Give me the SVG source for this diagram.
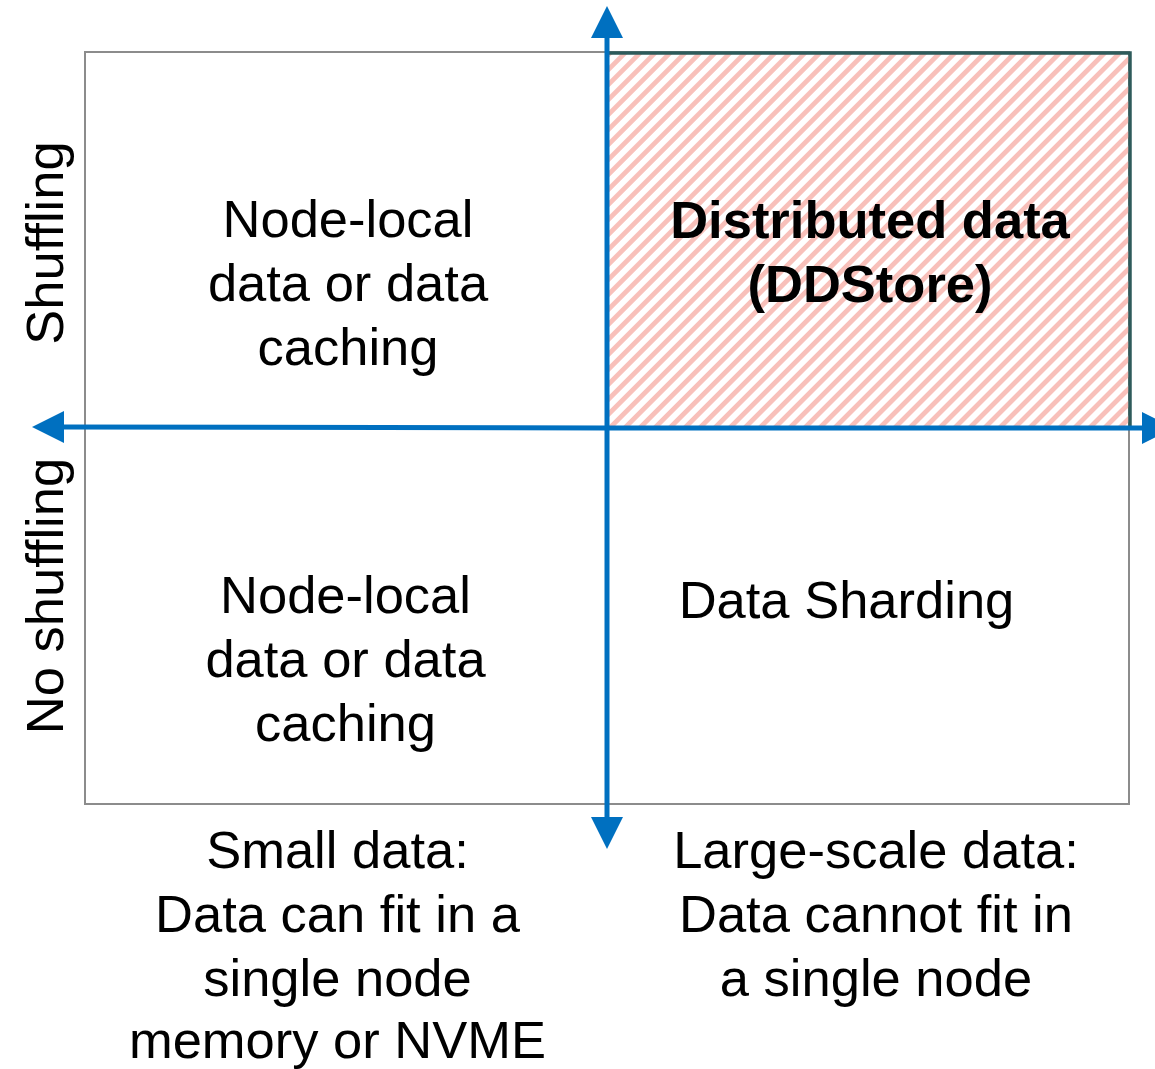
<svg xmlns="http://www.w3.org/2000/svg" width="1155" height="1069" viewBox="0 0 1155 1069">
<defs>
<pattern id="hatch" patternUnits="userSpaceOnUse" width="10.6" height="10.6" patternTransform="rotate(45)">
<rect x="0" y="0" width="4.8" height="10.6" fill="#F8C0BA"/>
</pattern>
<marker id="ah" markerUnits="userSpaceOnUse" markerWidth="32" markerHeight="32" viewBox="0 0 30 30" refX="0" refY="15" orient="auto">
<path d="M0,0 L30,15 L0,30 Z" fill="#0070C0"/>
</marker>
<style>
.t{font-family:"Liberation Sans",Arial,sans-serif;font-size:52.5px;fill:#000;text-anchor:middle}
.b{font-weight:bold}
</style>
</defs>
<rect width="1155" height="1069" fill="#fff"/>
<g id="frame">
<rect x="85" y="52" width="1044" height="752" fill="none" stroke="#8C8C8C" stroke-width="2"/>
</g>
<g id="ddstore">
<rect x="607" y="53" width="523" height="375" fill="url(#hatch)" stroke="#2E5B5B" stroke-width="3.5"/>
<text class="t b" x="870" y="238">Distributed data</text>
<text class="t b" x="870" y="302">(DDStore)</text>
</g>
<g id="tl">
<text class="t" x="348" y="237">Node-local</text>
<text class="t" x="348" y="301">data or data</text>
<text class="t" x="348" y="365">caching</text>
</g>
<g id="bl">
<text class="t" x="345.5" y="613">Node-local</text>
<text class="t" x="345.5" y="677">data or data</text>
<text class="t" x="345.5" y="741">caching</text>
</g>
<g id="br">
<text class="t" x="846.5" y="618">Data Sharding</text>
</g>
<g id="connectors" stroke="#0070C0" stroke-width="5" fill="none">
<line x1="607" y1="428" x2="607" y2="38" marker-end="url(#ah)"/>
<line x1="607" y1="428" x2="607" y2="817" marker-end="url(#ah)"/>
<line x1="607" y1="428" x2="64" y2="427" marker-end="url(#ah)"/>
<line x1="607" y1="428" x2="1142" y2="428" marker-end="url(#ah)"/>
</g>
<g id="ylabels">
<text class="t" transform="translate(63,243) rotate(-90)">Shuffling</text>
<text class="t" transform="translate(63,596) rotate(-90)">No shuffling</text>
</g>
<g id="xlabels">
<text class="t" x="337.5" y="868">Small data:</text>
<text class="t" x="337.5" y="932">Data can fit in a</text>
<text class="t" x="337.5" y="996">single node</text>
<text class="t" x="337.5" y="1058">memory or NVME</text>
<text class="t" x="876" y="868">Large-scale data:</text>
<text class="t" x="876" y="932">Data cannot fit in</text>
<text class="t" x="876" y="996">a single node</text>
</g>
</svg>
